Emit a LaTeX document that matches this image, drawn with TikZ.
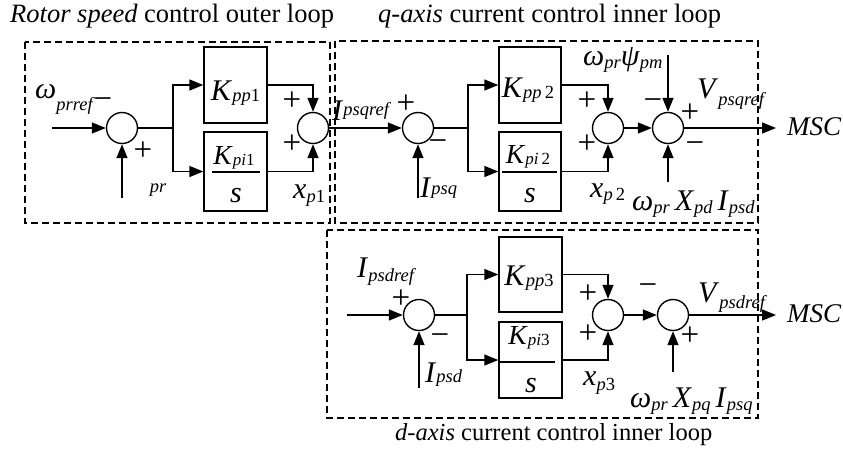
\documentclass[tikz,border=0pt]{standalone}
\usepackage{fontspec}
\setmainfont{Liberation Serif}
\usetikzlibrary{arrows.meta}
\newcommand{\mainsz}{\fontsize{30}{31}\selectfont}
\newcommand{\subsz}{\fontsize{18.5}{19}\selectfont}
\newcommand{\numsz}{\fontsize{27.5}{28}\selectfont}
\newcommand{\nsubsz}{\fontsize{17}{18}\selectfont}
\newcommand{\vsb}[3][-3pt]{\textit{#2}\raisebox{#1}{\subsz\textit{#3}}}
\newcommand{\nsb}[2]{{\numsz\textit{#1}}\raisebox{-1pt}{\nsubsz\textit{#2}}}
\tikzset{
  ln/.style={line width=1.4pt},
  arr/.style={line width=1.4pt,-{Triangle[length=14pt,width=11pt]}},
  sumc/.style={circle,draw,line width=1.4pt,minimum size=31pt,inner sep=0pt},
  blk/.style={draw,line width=1.4pt,inner sep=0pt},
  grp/.style={draw,dashed,line width=1.3pt,dash pattern=on 7pt off 4pt},
  lab/.style={anchor=base west,inner sep=0pt,font=\mainsz},
  blab/.style={anchor=base,inner sep=0pt,font=\mainsz},
  sgn/.style={inner sep=0pt,text height=0.6em,text depth=0pt,font=\fontsize{33}{33}\selectfont},
  ttl/.style={anchor=base west,inner sep=0pt,font=\fontsize{26.5}{27}\selectfont},
}
\begin{document}
\begin{tikzpicture}[x=1pt,y=-1pt]
\useasboundingbox (0,0) rectangle (843,456);
% titles
\node[ttl] (t1) at (10,22) {\textit{Rotor speed} control outer loop};
\node[ttl] (t2) at (378,22) {\textit{q-axis} current control inner loop};
\node[ttl,font=\fontsize{24.5}{25}\selectfont] (t3) at (395,440) {\textit{d-axis} current control inner loop};
% group boxes
\draw[grp] (25,42) rectangle (330,223);
\draw[grp] (335,41) rectangle (758,223);
\draw[grp] (327,230) rectangle (758,418);

% ===== outer loop =====
\node[sumc] (s1) at (122,128) {};
\node[blk,minimum width=63pt,minimum height=76pt] (kp1) at (235.5,85) {};
\node[blk,minimum width=63pt,minimum height=79pt] (ki1) at (235.5,171.5) {};
\node[sumc] (s2) at (313,128) {};
\coordinate (in1) at (52,128);
\coordinate (fb1) at (122,198);
\coordinate (sp1) at (173,128);
\draw[arr] (in1) -- (s1.west);
\draw[arr] (fb1) -- (s1.south);
\draw[ln] (s1.east) -- (sp1);
\draw[arr] (sp1) |- (kp1.west);
\draw[arr] (sp1) |- (ki1.west);
\draw[arr] (kp1.east) -| (s2.north);
\draw[arr] (ki1.east) -| (s2.south);
\node[blab] (kp1t) at (235.5,100) {\vsb[-1pt]{K}{pp\textup{1}}};
\node[blab] (ki1t) at (234,164) {\nsb{K}{pi\textup{1}}};
\draw[ln] (212,172) -- (260,172);
\node[blab] (ki1s) at (236,202) {\textit{s}};
\node[lab] (wref) at (35,98) {\vsb[-12pt]{ω}{prref}};
\node[sgn] (m1) at (103,106) {−};
\node[sgn] (p1) at (143,157) {+};
\node[inner sep=0pt,font=\subsz\itshape] (pr1) at (158,190) {pr};
\node[sgn] (p2) at (292,107) {+};
\node[sgn] (p3) at (292,150) {+};
\node[lab] (xp1) at (293,198) {\vsb[-4pt]{x}{p\textup{1}}};

% ===== q-axis loop =====
\node[sumc] (s3) at (418,128) {};
\node[blk,minimum width=62pt,minimum height=76pt] (kp2) at (530,85) {};
\node[blk,minimum width=62pt,minimum height=79pt] (ki2) at (530,171.5) {};
\node[sumc] (s4) at (608,128) {};
\node[sumc] (s5) at (668,128) {};
\coordinate (fb3) at (418,198);
\coordinate (sp2) at (468,128);
\coordinate (t5) at (668,55);
\coordinate (b5) at (668,182);
\coordinate (o1) at (776,128);
\draw[arr] (s2.east) -- (s3.west);
\draw[arr] (fb3) -- (s3.south);
\draw[ln] (s3.east) -- (sp2);
\draw[arr] (sp2) |- (kp2.west);
\draw[arr] (sp2) |- (ki2.west);
\draw[arr] (kp2.east) -| (s4.north);
\draw[arr] (ki2.east) -| (s4.south);
\draw[arr] (s4.east) -- (s5.west);
\draw[arr] (t5) -- (s5.north);
\draw[arr] (b5) -- (s5.south);
\draw[arr] (s5.east) -- (o1);
\node[anchor=base west,inner sep=0pt,font=\fontsize{27}{28}\selectfont\itshape] (msc1) at (787,135) {MSC};
\node[blab] (kp2t) at (528,97) {\vsb[-1pt]{K}{pp\,\textup{2}}};
\node[blab] (ki2t) at (528,163) {\nsb{K}{pi\,\textup{2}}};
\draw[ln] (502,172) -- (557,172);
\node[blab] (ki2s) at (530,202) {\textit{s}};
\node[lab] (iqref) at (332,120) {\vsb[5pt]{I}{psqref}};
\node[lab] (iq) at (420,197) {\vsb[3pt]{I}{psq}};
\node[lab] (xp2) at (590,197) {\vsb[-3pt]{x}{p\,\textup{2}}};
\node[lab] (wpsi) at (583,65) {\vsb{ω}{pr}\vsb{ψ}{pm}};
\node[lab] (vqref) at (697,98) {\vsb[-7pt]{V}{psqref}};
\node[sgn] (p7) at (690,119) {+};
\node[lab] (wxi1) at (632,210) {\vsb{ω}{pr}\,\vsb{X}{pd}\,\vsb{I}{psd}};
\node[sgn] (p4) at (406,110) {+};
\node[sgn] (m2) at (438,148) {−};
\node[sgn] (p5) at (587,107) {+};
\node[sgn] (p6) at (587,150) {+};
\node[sgn] (m3) at (653,107) {−};
\node[sgn] (m4) at (695,150) {−};

% ===== d-axis loop =====
\node[sumc] (s6) at (419,315) {};
\node[blk,minimum width=63pt,minimum height=75pt] (kp3) at (530.5,274.5) {};
\node[blk,minimum width=63pt,minimum height=76pt] (ki3) at (530.5,360) {};
\node[sumc] (s7) at (608,315) {};
\node[sumc] (s8) at (673,315) {};
\coordinate (in6) at (347,315);
\coordinate (fb6) at (419,388);
\coordinate (sp3) at (467,315);
\coordinate (b8) at (673,372);
\coordinate (o2) at (776,315);
\draw[arr] (in6) -- (s6.west);
\draw[arr] (fb6) -- (s6.south);
\draw[ln] (s6.east) -- (sp3);
\draw[arr] (sp3) |- (kp3.west);
\draw[arr] (sp3) |- (ki3.west);
\draw[arr] (kp3.east) -| (s7.north);
\draw[arr] (ki3.east) -| (s7.south);
\draw[arr] (s7.east) -- (s8.west);
\draw[arr] (b8) -- (s8.south);
\draw[arr] (s8.east) -- (o2);
\node[anchor=base west,inner sep=0pt,font=\fontsize{27}{28}\selectfont\itshape] (msc2) at (787,322) {MSC};
\node[blab] (kp3t) at (529,285) {\vsb[-1pt]{K}{pp\textup{3}}};
\node[blab] (ki3t) at (529,344) {\nsb{K}{pi\textup{3}}};
\draw[ln] (498,362) -- (555,362);
\node[blab] (ki3s) at (531,392) {\textit{s}};
\node[lab] (idref) at (357,277) {\vsb[-4pt]{I}{psdref}};
\node[lab] (id) at (425,382) {\vsb[0pt]{I}{psd}};
\node[lab] (xp3) at (583,385) {\vsb[-5pt]{x}{p\textup{3}}};
\node[lab] (vdref) at (698,302) {\vsb[-6pt]{V}{psdref}};
\node[lab] (wxi2) at (630,407) {\vsb{ω}{pr}\,\vsb{X}{pq}\,\vsb{I}{psq}};
\node[sgn] (p8) at (401,305) {+};
\node[sgn] (m5) at (440,342) {−};
\node[sgn] (p9) at (588,300) {+};
\node[sgn] (p10) at (588,340) {+};
\node[sgn] (m6) at (648,292) {−};
\node[sgn] (p11) at (690,342) {+};
\end{tikzpicture}
\end{document}
